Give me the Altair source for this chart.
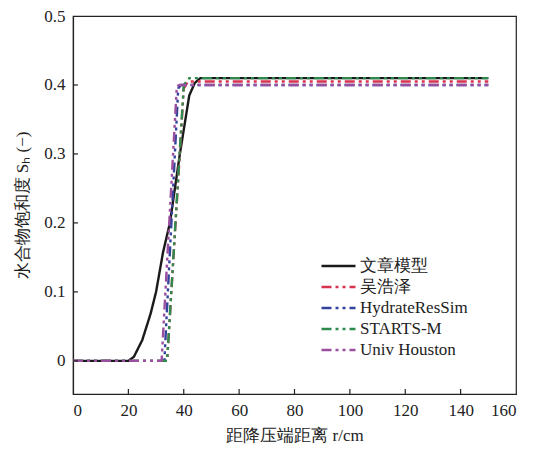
import altair as alt
import pandas as pd

series_names = ["文章模型", "吴浩泽", "HydrateResSim", "STARTS-M", "Univ Houston"]
colors = ["#1a1a1a", "#d8334f", "#34449a", "#2f8a4e", "#9b4f9f"]
dashes = [[1, 0], [10, 4, 3, 4, 3, 4], [10, 4, 3, 4, 3, 4], [10, 4, 3, 4, 3, 4], [10, 4, 3, 4, 3, 4]]

r_model = [0, 20, 22, 25, 28, 30, 32.5, 35, 38.6, 42, 44, 46, 150]
s_model = [0, 0, 0.006, 0.03, 0.068, 0.1, 0.157, 0.2, 0.3, 0.385, 0.403, 0.41, 0.41]
r_wu = [0, 34, 40, 41.5, 150]
s_wu = [0, 0, 0.395, 0.405, 0.405]
r_hrs = [0, 33, 38, 39, 150]
s_hrs = [0, 0, 0.395, 0.40, 0.40]
r_starts = [0, 34, 40, 42, 150]
s_starts = [0, 0, 0.40, 0.41, 0.41]
r_uh = [0, 32, 37.5, 38.5, 150]
s_uh = [0, 0, 0.398, 0.40, 0.40]

x_ticks = [20, 40, 60, 80, 100, 120, 140]
y_ticks = [0, 0.1, 0.2, 0.3, 0.4]

rows = []
for name, rs, ss in zip(series_names,
                        [r_model, r_wu, r_hrs, r_starts, r_uh],
                        [s_model, s_wu, s_hrs, s_starts, s_uh]):
    for i, (a, b) in enumerate(zip(rs, ss)):
        rows.append({"series": name, "r": a, "s": b, "i": i})
df = pd.DataFrame(rows)

FONT = "Liberation Serif, serif"
W, H = 443, 378

xscale = alt.Scale(domain=[0, 160], nice=False)
yscale = alt.Scale(domain=[-0.048, 0.5], nice=False)

leg = dict(title=None, orient="none", legendX=247, legendY=240,
           symbolType="M-1,0H3", symbolSize=289, symbolStrokeWidth=2.4,
           symbolFillColor="transparent",
           labelFontSize=17, labelFont=FONT, labelColor="#222",
           rowPadding=3, labelOffset=20)

axis_common = dict(ticks=False, grid=False, labelPadding=8, domainColor="#222",
                   domainWidth=1.2, labelFont=FONT, titleFont=FONT,
                   labelFontSize=17, titleFontSize=17, labelColor="#222",
                   titleColor="#222", titleFontWeight="normal")

lines = alt.Chart(df).mark_line(strokeWidth=2.4).encode(
    x=alt.X("r:Q", scale=xscale,
            axis=alt.Axis(title="距降压端距离 r/cm", values=list(range(0, 161, 20)),
                          titlePadding=9, **axis_common)),
    y=alt.Y("s:Q", scale=yscale,
            axis=alt.Axis(title="水合物饱和度 Sₕ (−)", values=[0, 0.1, 0.2, 0.3, 0.4, 0.5],
                          format="~g", titlePadding=12, **axis_common)),
    color=alt.Color("series:N", scale=alt.Scale(domain=series_names, range=colors),
                    legend=alt.Legend(**leg)),
    strokeDash=alt.StrokeDash("series:N", scale=alt.Scale(domain=series_names, range=dashes),
                              legend=alt.Legend(**leg)),
    order="i:Q",
)

xt = alt.Chart(pd.DataFrame({"r": x_ticks})).mark_rule(color="#222", strokeWidth=1.2).encode(
    x=alt.X("r:Q", scale=xscale), y=alt.value(H), y2=alt.value(H - 5))
yt = alt.Chart(pd.DataFrame({"s": y_ticks})).mark_rule(color="#222", strokeWidth=1.2).encode(
    y=alt.Y("s:Q", scale=yscale), x=alt.value(0), x2=alt.value(5))

chart = alt.layer(lines, xt, yt).properties(
    width=W, height=H,
    autosize=alt.AutoSizeParams(type="none"),
    padding={"left": 65, "top": 8, "right": 9, "bottom": 51},
).configure_view(stroke="#222", strokeWidth=1.2).configure_axis(
    labelFont=FONT, titleFont=FONT,
).configure_legend(labelFont=FONT)

chart.save("out.html", embed_options={"renderer": "svg", "actions": False})
